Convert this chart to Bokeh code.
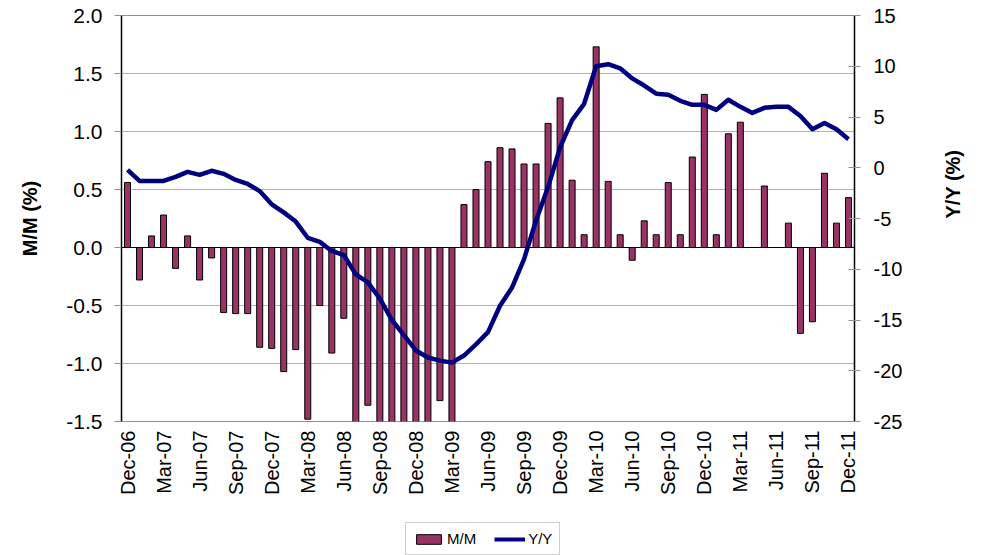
import math
from bokeh.plotting import figure
from bokeh.layouts import column
from bokeh.models import (Range1d, LinearAxis, FixedTicker, NumeralTickFormatter,
                          ColumnDataSource, Legend, LegendItem, Span)
from bokeh.embed import file_html
from bokeh.resources import INLINE

months = ["Dec-06", "Jan-07", "Feb-07", "Mar-07", "Apr-07", "May-07", "Jun-07", "Jul-07",
          "Aug-07", "Sep-07", "Oct-07", "Nov-07", "Dec-07", "Jan-08", "Feb-08", "Mar-08",
          "Apr-08", "May-08", "Jun-08", "Jul-08", "Aug-08", "Sep-08", "Oct-08", "Nov-08",
          "Dec-08", "Jan-09", "Feb-09", "Mar-09", "Apr-09", "May-09", "Jun-09", "Jul-09",
          "Aug-09", "Sep-09", "Oct-09", "Nov-09", "Dec-09", "Jan-10", "Feb-10", "Mar-10",
          "Apr-10", "May-10", "Jun-10", "Jul-10", "Aug-10", "Sep-10", "Oct-10", "Nov-10",
          "Dec-10", "Jan-11", "Feb-11", "Mar-11", "Apr-11", "May-11", "Jun-11", "Jul-11",
          "Aug-11", "Sep-11", "Oct-11", "Nov-11", "Dec-11"]

mm = [0.56, -0.28, 0.10, 0.28, -0.18, 0.10, -0.28, -0.09, -0.56, -0.57, -0.57, -0.86,
      -0.87, -1.07, -0.88, -1.48, -0.50, -0.91, -0.61, -1.90, -1.36, -2.10, -2.60, -2.40,
      -1.80, -1.90, -1.32, -1.70, 0.37, 0.50, 0.74, 0.86, 0.85, 0.72, 0.72, 1.07,
      1.29, 0.58, 0.11, 1.73, 0.57, 0.11, -0.11, 0.23, 0.11, 0.56, 0.11, 0.78,
      1.32, 0.11, 0.98, 1.08, 0.0, 0.53, 0.0, 0.21, -0.74, -0.64, 0.64, 0.21, 0.43]

yy = [-0.2, -1.3, -1.3, -1.3, -0.9, -0.4, -0.7, -0.3, -0.6, -1.2, -1.6, -2.3,
      -3.6, -4.4, -5.3, -6.9, -7.3, -8.2, -8.6, -10.5, -11.3, -12.9, -15.0, -16.5,
      -18.0, -18.7, -19.0, -19.2, -18.5, -17.4, -16.2, -13.6, -11.8, -9.0, -5.2, -1.9,
      2.0, 4.7, 6.3, 10.0, 10.2, 9.8, 8.8, 8.1, 7.3, 7.2, 6.6, 6.2,
      6.2, 5.7, 6.7, 6.0, 5.4, 5.9, 6.0, 6.0, 5.1, 3.8, 4.4, 3.8, 2.8]

left_ticks = [-1.5, -1.0, -0.5, 0.0, 0.5, 1.0, 1.5, 2.0]
right_ticks = [-25, -20, -15, -10, -5, 0, 5, 10, 15]
label_every = 3

FONT = "Liberation Sans"
BAR_COLOR = "#993366"
LINE_COLOR = "#000080"
idx = list(range(len(months)))
src = ColumnDataSource(dict(x=idx, mm=mm, yy=yy, month=months))

p = figure(width=986, height=521, output_backend="svg", toolbar_location=None,
           x_range=Range1d(-0.5, len(months) - 0.5), y_range=Range1d(-1.5, 2.0),
           min_border_left=121, min_border_right=132, min_border_top=15, min_border_bottom=100)
p.frame_width = 733
p.frame_height = 406
p.background_fill_color = "white"
p.border_fill_color = "white"
p.outline_line_color = "#909090"
p.outline_line_width = 1

p.extra_y_ranges = {"yy": Range1d(-25, 15)}

p.xgrid.visible = False
p.ygrid.ticker = FixedTicker(ticks=left_ticks)
p.ygrid.grid_line_color = "#b4b4b4"
p.ygrid.grid_line_width = 1

p.vbar(x="x", top="mm", bottom=0, width=0.5, source=src,
       fill_color=BAR_COLOR, line_color="black", line_width=1)
p.add_layout(Span(location=0, dimension="width", line_color="black", line_width=1.2))
p.line(x="x", y="yy", source=src, y_range_name="yy",
       line_color=LINE_COLOR, line_width=4.5, line_join="round")

# x axis
xa = p.xaxis[0]
xa.ticker = FixedTicker(ticks=[i for i in idx if i % label_every == 0])
xa.major_label_overrides = {i: months[i] for i in idx if i % label_every == 0}
xa.major_label_orientation = math.pi / 2
xa.major_tick_line_color = None
xa.minor_tick_line_color = None
xa.axis_line_color = None
xa.major_tick_out = 0
xa.major_tick_in = 0
xa.minor_tick_out = 0
xa.major_label_standoff = 9
xa.major_label_text_font = FONT
xa.major_label_text_font_size = "20px"
xa.major_label_text_color = "black"

# left axis
ya = p.yaxis[0]
ya.ticker = FixedTicker(ticks=left_ticks)
ya.formatter = NumeralTickFormatter(format="0.0")
ya.axis_line_color = "black"
ya.axis_line_width = 1.5
ya.major_tick_line_color = "#909090"
ya.major_tick_out = 7
ya.major_tick_in = 0
ya.minor_tick_line_color = None
ya.major_label_standoff = 12
ya.major_label_text_font = FONT
ya.major_label_text_font_size = "21px"
ya.major_label_text_color = "black"
ya.axis_label = "M/M (%)"
ya.axis_label_text_font = FONT
ya.axis_label_text_font_style = "bold"
ya.axis_label_text_font_size = "20px"
ya.axis_label_standoff = 22
ya.axis_label_text_color = "black"

# right axis
ra = LinearAxis(y_range_name="yy", ticker=FixedTicker(ticks=right_ticks),
                formatter=NumeralTickFormatter(format="0"))
ra.axis_line_color = "black"
ra.axis_line_width = 1.5
ra.major_tick_line_color = "#909090"
ra.major_tick_out = 6
ra.major_tick_in = 6
ra.minor_tick_line_color = None
ra.major_label_standoff = 13
ra.major_label_text_font = FONT
ra.major_label_text_font_size = "20px"
ra.major_label_text_color = "black"
ra.axis_label = "Y/Y (%)"
ra.axis_label_orientation = math.pi / 2
ra.axis_label_text_font = FONT
ra.axis_label_text_font_style = "bold"
ra.axis_label_text_font_size = "20px"
ra.axis_label_standoff = 48
ra.axis_label_text_color = "black"
p.add_layout(ra, "right")

# legend strip below the chart (its proxy renderers fall outside its ranges)
lg = figure(width=986, height=34, output_backend="svg", toolbar_location=None,
            x_range=Range1d(1000, 1001), y_range=Range1d(1000, 1001), min_border=0,
            x_axis_location=None, y_axis_location=None)
lg.outline_line_color = None
lg.grid.visible = False
lg.background_fill_color = "white"
lg.border_fill_color = "white"
lb = lg.vbar(x="x", top="mm", bottom=0, width=0.5, source=src,
             fill_color=BAR_COLOR, line_color="black", line_width=1)
ll = lg.line(x="x", y="yy", source=src, line_color=LINE_COLOR, line_width=4)

legend = Legend(items=[LegendItem(label="M/M", renderers=[lb]),
                       LegendItem(label="Y/Y", renderers=[ll])],
                orientation="horizontal", location=(284, 0))
legend.label_text_font = FONT
legend.label_text_font_size = "15px"
legend.label_text_color = "black"
legend.glyph_width = 31
legend.glyph_height = 12
legend.label_standoff = 3
legend.label_height = 14
legend.spacing = 18
legend.padding = 7
legend.margin = 0
legend.border_line_color = "#a0a0a0"
legend.border_line_width = 1
legend.background_fill_color = "white"
legend.background_fill_alpha = 1
lg.add_layout(legend, "center")

layout = column(p, lg, spacing=0)
open("out.html", "w").write(file_html(layout, INLINE))
